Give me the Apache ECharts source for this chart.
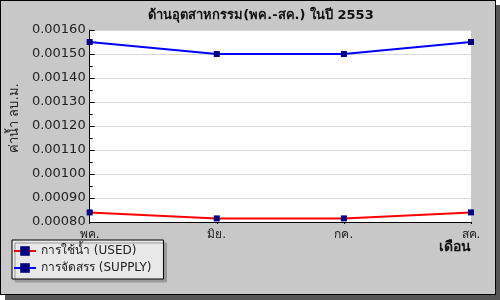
<!DOCTYPE html>
<html><head><meta charset="utf-8">
<script src="https://cdn.jsdelivr.net/npm/echarts@6/dist/echarts.min.js"></script>
<style>
html,body{margin:0;padding:0;background:#fff;}
#frame{position:absolute;left:0;top:0;width:496px;height:295px;box-sizing:border-box;border:1px solid #000;background:#c8c8c8;box-shadow:5px 5px 0 #555;}
#c{position:absolute;left:0;top:0;width:500px;height:300px;}
</style></head>
<body><div id="frame"></div><div id="c"></div>
<script>
const months = ['พค.', 'มิย.', 'กค.', 'สค.'];
const usedValues = [0.00084, 0.000815, 0.000815, 0.00084];
const supplyValues = [0.00155, 0.00150, 0.00150, 0.00155];
const seriesNames = ['การใช้น้ำ (USED)', 'การจัดสรร (SUPPLY)'];
const titleText = 'ด้านอุตสาหกรรม(พค.-สค.) ในปี 2553';
const yName = 'ค่าน้ำ ลบ.ม.';
const xName = 'เดือน';

const font = "'DejaVu Sans', 'Noto Sans', sans-serif";
const chart = echarts.init(document.getElementById('c'));
chart.setOption({
  animation: false,
  backgroundColor: 'transparent',
  textStyle: {fontFamily: font},
  title: {
    text: titleText, left: 256, top: 4, textAlign: 'center',
    textStyle: {fontSize: 13, fontWeight: 'bold', color: '#111', fontFamily: font}
  },
  grid: {left: 61, right: 29, top: 30, bottom: 78, show: true, backgroundColor: '#fff', borderWidth: 0},
  legend: {
    orient: 'vertical', left: 12, top: 240, width: 145,
    padding: [5, 12, 5, 1], itemGap: 5, itemWidth: 22, itemHeight: 12,
    backgroundColor: '#e8e8e8', borderColor: '#000', borderWidth: 1,
    shadowColor: '#999', shadowBlur: 0, shadowOffsetX: 3, shadowOffsetY: 3,
    textStyle: {fontSize: 12, color: '#222', fontFamily: font}
  },
  xAxis: {
    type: 'category', data: months, boundaryGap: false,
    axisLine: {lineStyle: {color: '#000', width: 1}},
    axisTick: {show: true, length: 2, lineStyle: {color: '#000'}},
    axisLabel: {fontSize: 12, color: '#222', margin: 7},
    splitLine: {show: false}
  },
  yAxis: {
    type: 'value', min: 0.0008, max: 0.0016, interval: 0.0001,
    name: yName, nameLocation: 'middle', nameGap: 41, nameRotate: 90,
    nameTextStyle: {fontSize: 13, color: '#222', padding: [0, 0, 0, 16]},
    axisLine: {show: true, lineStyle: {color: '#000', width: 1}},
    axisTick: {show: true, inside: true, length: 5, lineStyle: {color: '#000'}},
    minorTick: {show: true, splitNumber: 2, length: 3, lineStyle: {color: '#000'}},
    axisLabel: {fontSize: 13, color: '#222', margin: 4, formatter: v => v.toFixed(5)},
    splitLine: {show: true, lineStyle: {color: '#d8d8d8', width: 1}}
  },
  graphic: [{
    type: 'text', right: 29, top: 240,
    style: {text: xName, fontSize: 14, fontWeight: 'bold', fill: '#111', font: "bold 14px " + font}
  }],
  series: [
    {name: seriesNames[0], type: 'line', data: usedValues, symbol: 'rect', symbolSize: 6,
     lineStyle: {color: '#ff0000', width: 2}, itemStyle: {color: '#000080'}},
    {name: seriesNames[1], type: 'line', data: supplyValues, symbol: 'rect', symbolSize: 6,
     lineStyle: {color: '#0000ff', width: 2}, itemStyle: {color: '#000080'}}
  ]
});
</script></body></html>
